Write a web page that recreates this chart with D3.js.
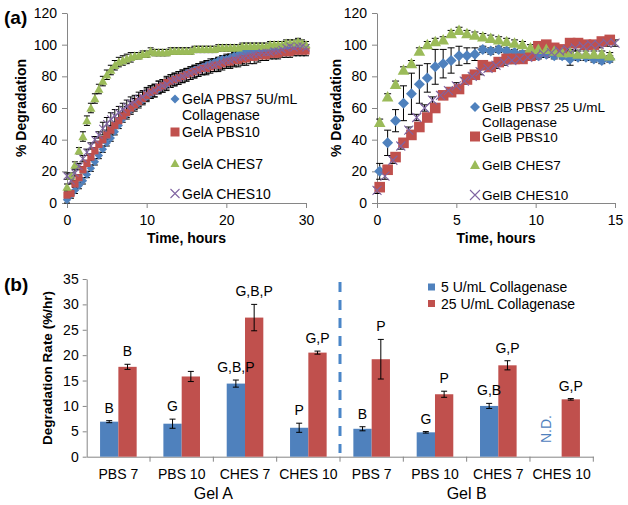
<!DOCTYPE html>
<html><head><meta charset="utf-8">
<script src="https://cdn.jsdelivr.net/npm/d3@7"></script>
<style>body{margin:0;background:#fff}svg{display:block;background:#fff}text{font-family:"Liberation Sans",Arial,sans-serif}</style>
</head><body><svg id="c" width="628" height="505"></svg>
<script>
// ---------------- DATA ----------------
const yTicksTop = [0,20,40,60,80,100,120];
const xTicksA = [0,10,20,30];
const xTicksB = [0,5,10,15];

const timeA = [0,0.5,1,1.5,2,2.5,3,3.5,4,4.5,5,5.5,6,6.5,7,7.5,8,8.5,9,9.5,10,10.5,11,11.5,12,12.5,13,13.5,14,14.5,15,15.5,16,16.5,17,17.5,18,18.5,19,19.5,20,20.5,21,21.5,22,22.5,23,23.5,24,24.5,25,25.5,26,26.5,27,27.5,28,28.5,29,29.5,30];
const gelA_PBS7  = [2,5,8,11,14,18,22,26,30,34, 38,41,45,49,53,56,59,61,63,65, 67,69,71,72,74,75,77,78,79,80, 82,83,84,85,86,87,88,89,90,91, 91,92,93,94,95,95,96,96,97,97, 97,97,97,97,98,98,98,97,98,98, 98];
const gelA_PBS10 = [5,6,12,16,21,25,29,33,37,40, 43,46,49,52,55,57,60,62,64,66, 68,70,71,73,74,76,77,78,79,80, 81,82,83,84,85,85,86,87,87,88, 89,89,90,90,91,91,92,92,93,93, 93,94,94,94,95,95,95,96,96,96, 96];
const gelA_CHES7 = [10,17,24,33,42,52,60,66,72,77, 81,84,87,89,90,91,92,93,93,94, 94,96,95,95,95,95,96,96,96,96, 96,96,97,97,97,97,97,97,98,98, 98,98,98,98,99,99,99,99,99,99, 99,100,100,100,100,101,101,101,102,101, 100];
const gelA_CHES10= [17,14,19,23,28,32,36,40,43,47, 50,53,55,57,59,61,63,64,66,67, 69,70,71,73,74,75,77,78,79,80, 81,82,83,84,85,86,87,87,88,89, 90,90,91,92,92,93,93,94,94,95, 95,95,96,96,97,98,99,98,99,99, 98];
const errA_PBS7  = [2,2,2,2,2,2,2,2,2,2, 2,2,2,2,2,2,2,2,2,2, 2,2,2,2,2,2,2,2,2,2, 2,2,2,2,2,2,2,2,2,2, 2,2,2,2,2,2,2,2,2,2, 2,2,2,2,2,2,2,2,2,2, 2];
const errA_PBS10 = [2,2,2,2,2,2,2,2,2,2, 2,2,2,2,2,4,4,4,4,4, 4,4,4,4,4,4,4,4,4,4, 4,4,4,4,4,4,4,4,4,4, 4,4,4,4,4,4,4,4,4,3, 3,3,3,3,3,3,3,3,3,3, 3];
const errA_CHES7 = [2,2,2,2,3,3,3,3,3,3, 3,3,3,3,3,3,3,2,2,2, 2,2,2,2,2,2,2,2,2,2, 2,2,2,2,2,2,2,2,2,2, 2,2,2,2,2,2,2,2,2,2, 2,2,2,2,2,2,2,2,2,2, 2];
const errA_CHES10= [2,2,2,2,2,2,2,2,2,4, 4,4,4,4,4,4,4,4,4,4, 4,4,4,4,4,4,4,4,4,4, 4,4,4,4,4,4,4,4,4,4, 4,4,4,4,4,2,2,2,2,2, 2,2,2,2,2,2,2,2,2,2, 2];

const timeB   = [0.17,0.67,1.17,1.67,2.17,2.67,3.17,3.67,4.17,4.67,5.17,5.67,6.17,6.67,7.17,7.67,8.17,8.67,9.17,9.67,10.17,10.67,11.17,11.67,12.17,12.67,13.17,13.67,14.17,14.67];
const timeB10 = [0,0.5,1,1.5,2,2.5,3,3.5,4,4.5,5,5.5,6,6.5,7,7.5,8,8.5,9,9.5,10,10.5,11,11.5,12,12.5,13,13.5,14,14.5,15];
const gelB_PBS7  = [20,38,52,63,69,75,79,86,88,90, 93,93,94,97,96,97,96,95,94,93, 93,94,93,93,91,92,92,91,90,91];
const errB_PBS7  = [5,8,7,11,13,12,9,11,9,8, 6,5,4,2,2,2,2,2,2,2, 2,2,2,2,4,2,2,2,2,2];
const gelB_PBS10 = [10,21,29,38,43,48,54,60,68,70, 72,78,81,87,86,89,91,91,91,93, 99,100,98,97,101,101,100,100,102,103];
const errB_PBS10 = [2,2,2,2,2,2,2,2,2,2, 2,2,2,2,2,2,2,2,2,2, 2,2,2,2,2,2,2,2,2,2];
const gelB_CHES7 = [51,67,75,84,88,96,100,102,103,107, 109,107,106,105,104,103,102,101,100,98, 97,97,96,95,95,94,94,94,94,93];
const errB_CHES7 = [2,2,2,2,2,2,2,2,2,2, 2,2,2,2,2,2,2,2,2,2, 2,2,2,2,2,2,2,2,2,2];
const gelB_CHES10= [8,17,27,36,46,54,60,65,68,71, 74,77,80,83,85,87,89,90,91,92, 93,94,95,96,97,98,99,100,100,101, 101];
const errB_CHES10= [2,2,2,2,2,2,2,2,2,2, 2,2,2,2,2,2,2,2,2,2, 2,2,2,2,2,2,2,2,2,2, 2];

const legendA = [["GelA PBS7 5U/mL","Collagenase"],["GelA PBS10"],["GelA CHES7"],["GelA CHES10"]];
const legendB = [["GelB PBS7 25 U/mL","Collagenase"],["GelB PBS10"],["GelB CHES7"],["GelB CHES10"]];

// bar chart
const barKeys   = ["A-PBS7","A-PBS10","A-CHES7","A-CHES10","B-PBS7","B-PBS10","B-CHES7","B-CHES10"];
const barLabels = ["PBS 7","PBS 10","CHES 7","CHES 10","PBS 7","PBS 10","CHES 7","CHES 10"];
const groups    = ["Gel A","Gel B"];
const rate5   = [6.9, 6.5, 14.4, 5.7, 5.5, 4.8, 10.0, null];
const err5    = [0.2, 0.9, 0.7, 0.9, 0.4, 0.15, 0.5, null];
const rate25  = [17.7, 15.8, 27.4, 20.5, 19.2, 12.3, 18.0, 11.3];
const err25   = [0.5, 1.0, 2.6, 0.3, 3.9, 0.6, 0.9, 0.15];
const sig5    = ["B","G","G,B,P","P","B","G","G,B",""];
const sig25   = ["B","","G,B,P","G,P","P","P","G,P","G,P"];
const barSeries = ["5 U/mL Collagenase","25 U/mL Collagenase"];
const yTicksBar = [0,5,10,15,20,25,30,35];

// ---------------- DRAW ----------------
const svg = d3.select("#c");
const AXIS = "#868686";
const C = {blue:"#4F81BD", red:"#C0504D", green:"#9BBB59", purple:"#8064A2"};

function markerPath(shape, r){
  if(shape==="diamond") return `M0,${-r}L${r},0L0,${r}L${-r},0Z`;
  if(shape==="square") return `M${-r},${-r}h${2*r}v${2*r}h${-2*r}Z`;
  if(shape==="triangle") return `M0,${-r}L${r},${r*0.8}L${-r},${r*0.8}Z`;
  return `M${-r},${-r}L${r},${r}M${r},${-r}L${-r},${r}`;
}
function drawMarker(g, shape, color, r, x, y){
  const p = g.append("path").attr("d", markerPath(shape, r)).attr("transform", `translate(${x},${y})`);
  if(shape==="x") p.attr("fill","none").attr("stroke",color).attr("stroke-width",1.1);
  else p.attr("fill",color);
}
function styleAxis(sel, fs){
  sel.select(".domain").attr("stroke",AXIS).attr("stroke-width",1);
  sel.selectAll(".tick line").attr("stroke",AXIS);
  sel.selectAll(".tick text").attr("fill","#000").style("font-size",fs+"px").style("font-family",'"Liberation Sans",Arial,sans-serif');
}

function topPanel(o){
  const x = d3.scaleLinear().domain(o.xDomain).range(o.xRange);
  const y = d3.scaleLinear().domain([0,120]).range([203,13]);
  const g = svg.append("g");
  const ya = g.append("g").attr("transform",`translate(${o.xRange[0]},0)`)
    .call(d3.axisLeft(y).tickValues(yTicksTop).tickSize(5).tickSizeOuter(0).tickPadding(5));
  styleAxis(ya, 14);
  const xa = g.append("g").attr("transform",`translate(0,203)`)
    .call(d3.axisBottom(x).tickValues(o.xTicks).tickSize(5).tickSizeOuter(0).tickPadding(7));
  styleAxis(xa, 14);
  // error bars
  const eg = g.append("g").attr("stroke","#000").attr("stroke-width",1);
  o.series.forEach(s=>{
    s.t.forEach((t,i)=>{
      const cx = x(t), v = s.v[i], e = s.e[i];
      const y1 = y(v+e), y2 = y(v-e);
      eg.append("line").attr("x1",cx).attr("x2",cx).attr("y1",y1).attr("y2",y2);
      eg.append("line").attr("x1",cx-o.cap).attr("x2",cx+o.cap).attr("y1",y1).attr("y2",y1);
      eg.append("line").attr("x1",cx-o.cap).attr("x2",cx+o.cap).attr("y1",y2).attr("y2",y2);
    });
  });
  const mg = g.append("g");
  o.series.forEach(s=>{
    s.t.forEach((t,i)=> drawMarker(mg, s.shape, s.color, s.r, x(t), y(s.v[i])));
  });
  // axis titles
  g.append("text").attr("x", (o.xRange[0]+o.xRange[1])/2).attr("y",243).attr("text-anchor","middle")
    .style("font-size","14px").style("font-weight","bold").text("Time, hours");
  g.append("text").attr("transform",`translate(${o.yTitleX},108) rotate(-90)`).attr("text-anchor","middle")
    .style("font-size","14px").style("font-weight","bold").text("% Degradation");
  // legend
  o.legend.forEach((lines,i)=>{
    const base = o.legBase[i];
    const s = o.series[i];
    drawMarker(g, s.shape, s.color, o.legR, o.legX, base-5);
    lines.forEach((ln,j)=>{
      g.append("text").attr("x",o.legX+7).attr("y",base+j*o.legLine).style("font-size",o.legFs+"px").attr("fill","#000").text(ln);
    });
  });
}

topPanel({
  xDomain:[0,30], xRange:[67,306], xTicks:xTicksA, cap:3, yTitleX:26,
  series:[
    {t:timeA, v:gelA_PBS7,  e:errA_PBS7,  shape:"diamond",  color:C.blue,   r:4.2},
    {t:timeA, v:gelA_PBS10, e:errA_PBS10, shape:"square",   color:C.red,    r:3.6},
    {t:timeA, v:gelA_CHES7, e:errA_CHES7, shape:"triangle", color:C.green,  r:4.6},
    {t:timeA, v:gelA_CHES10,e:errA_CHES10,shape:"x",        color:C.purple, r:3.6}
  ],
  legend:legendA, legX:175, legBase:[104,137,168.5,198.5], legR:4.5, legLine:16, legFs:14
});
topPanel({
  xDomain:[0,15], xRange:[377,615], xTicks:xTicksB, cap:3.5, yTitleX:341,
  series:[
    {t:timeB,   v:gelB_PBS7,  e:errB_PBS7,  shape:"diamond",  color:C.blue,   r:5.5},
    {t:timeB,   v:gelB_PBS10, e:errB_PBS10, shape:"square",   color:C.red,    r:5.3},
    {t:timeB,   v:gelB_CHES7, e:errB_CHES7, shape:"triangle", color:C.green,  r:5.8},
    {t:timeB10, v:gelB_CHES10,e:errB_CHES10,shape:"x",        color:C.purple, r:4.5}
  ],
  legend:legendB, legX:475, legBase:[112,141.5,170,200], legR:5, legLine:14.7, legFs:13.5
});

svg.append("text").attr("x",4).attr("y",24).style("font-size","19px").style("font-weight","bold").text("(a)");
svg.append("text").attr("x",4).attr("y",291).style("font-size","19px").style("font-weight","bold").text("(b)");

// ---- bar chart ----
(function(){
  const x0 = d3.scaleBand().domain(barKeys).range([86.7,593.3]).paddingInner(0).paddingOuter(0);
  const x1 = d3.scaleBand().domain(barSeries).range([0,x0.bandwidth()]).paddingInner(0).paddingOuter(0.73);
  const y = d3.scaleLinear().domain([0,35]).range([456.7,279]);
  const g = svg.append("g");
  const ya = g.append("g").attr("transform","translate(86.7,0)")
    .call(d3.axisLeft(y).tickValues(yTicksBar).tickSize(4).tickSizeOuter(0).tickPadding(4));
  styleAxis(ya, 14);
  const xa = g.append("g").attr("transform","translate(0,456.7)")
    .call(d3.axisBottom(x0).tickSize(0).tickPadding(12.5).tickFormat((d,i)=>barLabels[i]));
  styleAxis(xa, 14);
  // boundary ticks
  barKeys.forEach(k=>{
    const bx = x0(k)+x0.bandwidth();
    g.append("line").attr("x1",bx).attr("x2",bx).attr("y1",456.7).attr("y2",461.7).attr("stroke",AXIS);
  });
  const vals = [rate5, rate25], errs = [err5, err25], sigs = [sig5, sig25], cols = [C.blue, C.red];
  barSeries.forEach((sName, si)=>{
    barKeys.forEach((k,i)=>{
      const v = vals[si][i];
      if(v==null) return;
      const bx = x0(k)+x1(sName), bw = x1.bandwidth();
      g.append("rect").attr("x",bx).attr("y",y(v)).attr("width",bw).attr("height",y(0)-y(v)).attr("fill",cols[si]);
    });
  });
  barSeries.forEach((sName, si)=>{
    barKeys.forEach((k,i)=>{
      const v = vals[si][i];
      if(v==null) return;
      const e = errs[si][i];
      const cx = x0(k)+x1(sName)+x1.bandwidth()/2;
      const y1 = y(v+e), y2 = y(v-e);
      g.append("line").attr("x1",cx).attr("x2",cx).attr("y1",y1).attr("y2",y2).attr("stroke","#000");
      g.append("line").attr("x1",cx-3).attr("x2",cx+3).attr("y1",y1).attr("y2",y1).attr("stroke","#000");
      g.append("line").attr("x1",cx-3).attr("x2",cx+3).attr("y1",y2).attr("y2",y2).attr("stroke","#000");
      if(sigs[si][i]) g.append("text").attr("x",cx).attr("y",y1-8).attr("text-anchor","middle")
        .style("font-size","14px").attr("fill","#000").text(sigs[si][i]);
    });
  });
  // N.D.
  const ndx = x0(barKeys[7])+x1(barSeries[0])+x1.bandwidth()/2;
  g.append("text").attr("transform",`translate(${ndx-1},429) rotate(-90)`).attr("text-anchor","middle")
    .style("font-size","14px").attr("fill",C.blue).text("N.D.");
  // dashed divider
  const dx = x0(barKeys[4]);
  g.append("line").attr("x1",dx).attr("x2",dx).attr("y1",282).attr("y2",453)
    .attr("stroke","#4A86C8").attr("stroke-width",3).attr("stroke-dasharray","10,8");
  // group labels
  groups.forEach((gr,gi)=>{
    const a = x0(barKeys[gi*4]), b = x0(barKeys[gi*4+3])+x0.bandwidth();
    g.append("text").attr("x",(a+b)/2).attr("y",498.5).attr("text-anchor","middle").style("font-size","16px").text(gr);
  });
  // y title
  g.append("text").attr("transform","translate(52,368) rotate(-90)").attr("text-anchor","middle")
    .style("font-size","13.5px").style("font-weight","bold").text("Degradation Rate (%/hr)");
  // legend
  barSeries.forEach((sName,si)=>{
    const ly = 287 + si*16.5;
    g.append("rect").attr("x",428).attr("y",ly-3.5).attr("width",7).attr("height",7).attr("fill",cols[si]);
    g.append("text").attr("x",441).attr("y",ly+5).style("font-size","14px").text(sName);
  });
})();
</script></body></html>
